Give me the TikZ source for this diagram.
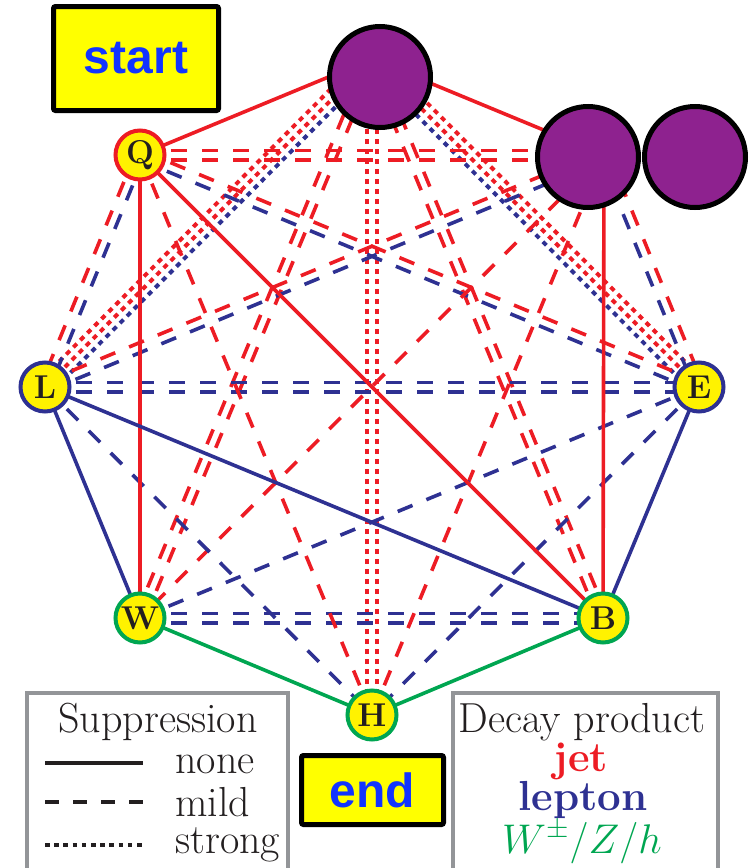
\documentclass[tikz,border=0pt]{standalone}
\usepackage{fontspec}
\newfontfamily\boxfont{Liberation Sans}
\usetikzlibrary{calc,backgrounds}

\definecolor{jetred}{RGB}{237,28,36}
\definecolor{lepblue}{RGB}{46,49,146}
\definecolor{bosgreen}{RGB}{0,166,81}
\definecolor{nodeyellow}{RGB}{255,242,0}
\definecolor{boxyellow}{RGB}{255,255,0}
\definecolor{flagblue}{RGB}{18,52,255}
\definecolor{blobpurple}{RGB}{142,34,143}
\definecolor{legendgray}{RGB}{147,149,152}
\definecolor{ink}{RGB}{35,31,32}

\tikzset{
	link/.style={line width=1.8pt},
	jetnone/.style={link,jetred},
	jetmild/.style={link,jetred,dash pattern=on 8pt off 7.5pt},
	jetstrong/.style={link,jetred,line width=2pt,dash pattern=on 2.5pt off 2.5pt},
	lepnone/.style={link,lepblue},
	lepmild/.style={link,lepblue,dash pattern=on 8pt off 7.5pt},
	lepstrong/.style={link,lepblue,line width=2pt,dash pattern=on 2.5pt off 2.5pt},
	bosnone/.style={link,bosgreen},
	particle/.style={circle,fill=nodeyellow,line width=2pt,minimum size=24.5pt,inner sep=0pt,text=ink,font=\fontsize{16.5}{19}\selectfont\bfseries},
	blob/.style={circle,draw=black,fill=blobpurple,line width=2.5pt,minimum size=50.5pt,inner sep=0pt},
	flagbox/.style={draw=black,fill=boxyellow,line width=2.5pt,rounded corners=1pt,text=flagblue,font=\boxfont\fontsize{24}{28}\selectfont\bfseries},
	legendbox/.style={draw=legendgray,line width=1.8pt},
	legendtext/.style={text=ink,font=\fontsize{21}{25}\selectfont,inner sep=0pt}
}

\begin{document}
\begin{tikzpicture}[x=0.5pt,y=-0.5pt]

	\useasboundingbox (0,0) rectangle (752,868);

	% hidden corners under the purple blobs
	\coordinate (T) at (372,59);
	\coordinate (N) at (604,155);

	\node [particle,draw=jetred] (Q) at (140,155) {Q};
	\node [particle,draw=lepblue] (L) at (45,387) {L};
	\node [particle,draw=lepblue] (E) at (699,387) {E};
	\node [particle,draw=bosgreen] (W) at (140,618) {W};
	\node [particle,draw=bosgreen] (B) at (603,618) {B};
	\node [particle,draw=bosgreen] (H) at (372,715) {H};

	\node [blob] (topblob) at (380,77) {};
	\node [blob] (rightblob) at (588,157) {};
	\node [blob] (farblob) at (695,157) {};

	\begin{pgfonlayer}{background}
	\foreach \a/\b/\o/\s in {
		T/L/-4/jetstrong, T/L/0/jetstrong, T/L/4/lepstrong,
		T/E/4/jetstrong, T/E/0/jetstrong, T/E/-4/lepstrong,
		T/H/2.5/jetstrong, T/H/-2.5/jetstrong,
		T/W/2.35/jetmild, T/W/-2.35/jetmild,
		T/B/2.35/jetmild, T/B/-2.35/jetmild,
		Q/N/2.35/jetmild, Q/N/-2.35/jetmild,
		Q/L/-2.35/jetmild, Q/L/2.35/lepmild,
		N/E/2.35/jetmild, N/E/-2.35/lepmild,
		Q/E/2.35/jetmild, Q/E/-2.35/lepmild,
		L/N/2.35/jetmild, L/N/-2.35/lepmild,
		L/E/2.35/lepmild, L/E/-2.35/lepmild,
		W/B/2.35/lepmild, W/B/-2.35/lepmild,
		N/H/0/jetmild, Q/H/0/jetmild, N/W/0/jetmild,
		L/H/0/lepmild, E/H/0/lepmild, E/W/0/lepmild,
		T/Q/0/jetnone, T/N/0/jetnone, Q/W/0/jetnone,
		N/B/0/jetnone, Q/B/0/jetnone,
		L/B/0/lepnone, L/W/0/lepnone, E/B/0/lepnone,
		W/H/0/bosnone, H/B/0/bosnone}
		\draw [\s] ($(\a)!\o pt!90:(\b)$) -- ($(\b)!\o pt!-90:(\a)$);
	\end{pgfonlayer}

	\node [flagbox,minimum width=82.5pt,minimum height=52pt] (startbox) at (136,58.5) {start};
	\node [flagbox,minimum width=71pt,minimum height=34.5pt] (endbox) at (372.5,790) {end};

	% legends
	\draw [legendbox] (27,693) rectangle (288,880);
	\draw [legendbox] (453,693) rectangle (718,880);

	\node [legendtext,anchor=base] (suptitle) at (158,732) {Suppression};
	\node [legendtext,anchor=base west] (nonetext) at (175,773) {none};
	\node [legendtext,anchor=base west] (mildtext) at (175,816) {mild};
	\node [legendtext,anchor=base west] (strongtext) at (175,853) {strong};
	\draw [ink,line width=2pt] (45,763) -- (143,763);
	\draw [ink,line width=2pt,dash pattern=on 7pt off 7pt] (45,802) -- (143,802);
	\draw [ink,line width=2pt,dash pattern=on 2.3pt off 2.3pt] (45,845) -- (143,845);

	\node [legendtext,anchor=base] (dectitle) at (582,732) {Decay product};
	\node [legendtext,anchor=base,text=jetred,font=\fontsize{21}{25}\selectfont\bfseries] (jettext) at (581,771) {jet};
	\node [legendtext,anchor=base,text=lepblue,font=\fontsize{21}{25}\selectfont\bfseries] (leptext) at (583,810) {lepton};
	\node [legendtext,anchor=base,text=bosgreen] (bostext) at (582,853) {$W^\pm/Z/h$};

\end{tikzpicture}
\end{document}
